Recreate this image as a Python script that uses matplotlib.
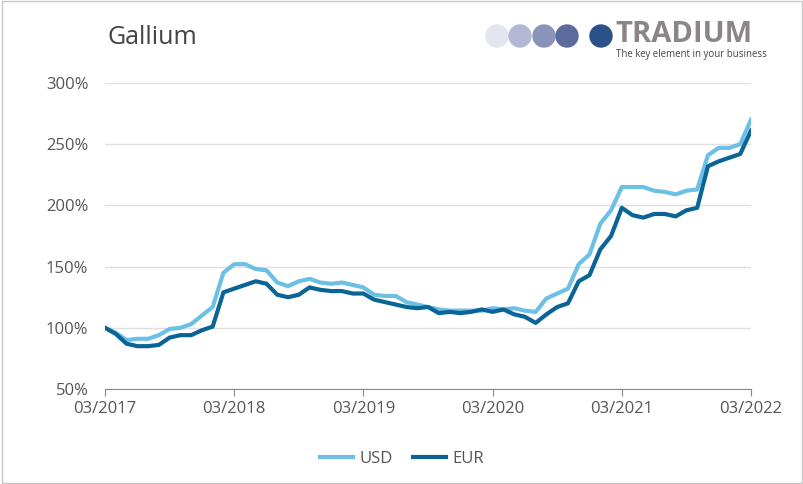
import matplotlib
matplotlib.use("Agg")
import matplotlib.pyplot as plt
from matplotlib.patches import Circle, Rectangle

months = list(range(61))
usd = [100,96,90,91,91,94,99,100,103,110,117,145,152,152,148,147,137,134,138,140,137,136,137,135,133,127,126,126,121,119,117,115,114,114,114,114,116,115,116,114,113,124,128,132,152,160,185,196,215,215,215,212,211,209,212,213,241,247,247,250,270]
eur = [100,95,87,85,85,86,92,94,94,98,101,129,132,135,138,136,127,125,127,133,131,130,130,128,128,123,121,119,117,116,117,112,113,112,113,115,113,115,111,109,104,111,117,120,138,143,164,175,198,192,190,193,193,191,196,198,232,236,239,242,261]
tick_pos = [0,12,24,36,48,60]
tick_labels = ["03/2017","03/2018","03/2019","03/2020","03/2021","03/2022"]
yticks = [50,100,150,200,250,300]

plt.rcParams["font.family"] = "Open Sans"
fig = plt.figure(figsize=(8.04,4.84), dpi=100)
fig.patches.append(Rectangle((0.002,0.002),0.996,0.996,transform=fig.transFigure,fill=False,edgecolor="#c8c8c8",lw=1))
ax = fig.add_axes([105/804, 1-389/484, 646/804, 306/484])
ax.plot(months, usd, color="#6cc0e5", lw=3, label="USD")
ax.plot(months, eur, color="#0a6496", lw=3, label="EUR")
ax.set_xlim(0,60); ax.set_ylim(50,300)
ax.set_yticks(yticks); ax.set_yticklabels([f"{v}%" for v in yticks])
ax.set_xticks(tick_pos); ax.set_xticklabels(tick_labels)
ax.grid(axis="y", color="#e0e0e0", lw=1)
ax.set_axisbelow(True)
for s in ["top","right","left"]: ax.spines[s].set_visible(False)
ax.spines["bottom"].set_color("#888888")
ax.tick_params(axis="y", length=0, labelsize=12, labelcolor="#555555", pad=12)
ax.tick_params(axis="x", length=5, color="#888888", labelsize=12, labelcolor="#555555")
fig.text(108/804, 1-38/484, "Gallium", fontsize=18, color="#444444", va="center")
fig.legend(loc="center", bbox_to_anchor=(0.5, 1-459/484), ncol=2, frameon=False, fontsize=12,
           handlelength=2, handletextpad=0.4, columnspacing=1.2, labelcolor="#555555")
# logo
cols = ["#e3e5ef","#b3b9d4","#8a94bb","#5a6b9c","#2a5288"]
xs = [497,520,544,567,601]
for x,c in zip(xs,cols):
    fig.patches.append(Circle((x/804, 1-36/484), 11/804, transform=fig.transFigure, color=c))
    # aspect-correct circle
fig.patches[:] = [p for p in fig.patches if not isinstance(p, Circle)]
from matplotlib.patches import Ellipse
for x,c in zip(xs,cols):
    fig.patches.append(Ellipse((x/804, 1-36/484), 22/804, 22/484, transform=fig.transFigure, color=c))
fig.text(615/804, 1-35/484, "TRADIUM", fontsize=21, fontweight="bold", color="#8c8585", va="center")
fig.text(616/804, 1-54/484, "The key element in your business", fontsize=7, color="#444444", va="center")
fig.savefig("out.png", dpi=100)
